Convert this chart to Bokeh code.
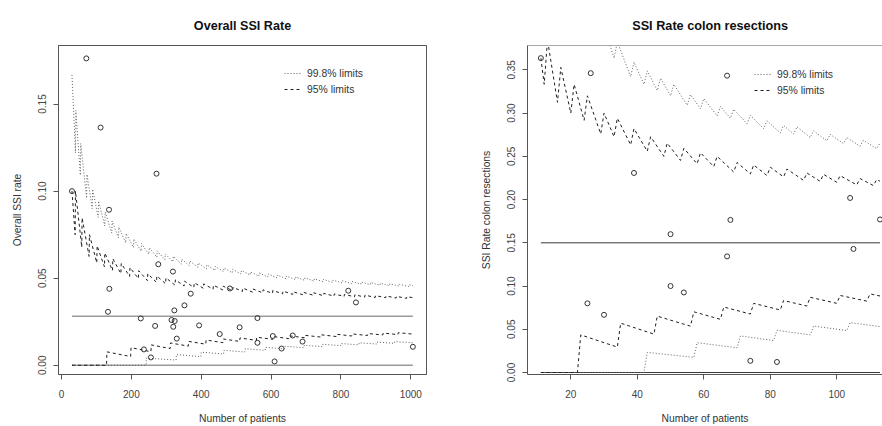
from bokeh.plotting import figure
from bokeh.models import Range1d, FixedTicker, NumeralTickFormatter, Legend, LegendItem, Span
from bokeh.layouts import row
from bokeh.embed import file_html
from bokeh.resources import INLINE

FONT = "Liberation Sans"

# ---------------- Left panel: Overall SSI Rate ----------------
L_TITLE = "Overall SSI Rate"
L_YLABEL = "Overall SSI rate"
XLABEL = "Number of patients"
L_N = [71, 112, 272, 30, 136, 277, 319, 137, 370, 482, 821, 843, 352, 133, 323, 227,
       561, 315, 324, 268, 320, 394, 510, 330, 453, 561, 605, 662, 690, 630, 1006,
       236, 256, 610]
L_RATE = [0.1762, 0.1365, 0.1100, 0.1000, 0.0893, 0.0580, 0.0538, 0.0439, 0.0411,
          0.0441, 0.0428, 0.0361, 0.0344, 0.0307, 0.0315, 0.0269, 0.0271, 0.0260,
          0.0254, 0.0226, 0.0221, 0.0229, 0.0218, 0.0153, 0.0179, 0.0129, 0.0168,
          0.0171, 0.0136, 0.0096, 0.0106, 0.0091, 0.0045, 0.0022]
L_P0 = 0.0281
L_X_TICKS = [0, 200, 400, 600, 800, 1000]
L_Y_TICKS = [0.0, 0.05, 0.10, 0.15]

# 99.8% upper limit (dotted): start, jump points, value before / after each jump, end
L_U998_START = [30, 0.1667]
L_U998_JUMP = [41, 55, 73, 89, 106, 125, 145, 164, 185, 207, 229, 251, 274, 297, 320,
               344, 367, 391, 416, 440, 465, 490, 515, 541, 566, 592, 618, 644, 671,
               697, 724, 750, 777, 804, 831, 858, 885, 913, 940, 968, 995]
L_U998_BEFORE = [0.1220, 0.1091, 0.0959, 0.0899, 0.0849, 0.0800, 0.0759, 0.0732, 0.0703,
                 0.0676, 0.0655, 0.0637, 0.0620, 0.0606, 0.0594, 0.0581, 0.0572, 0.0563,
                 0.0553, 0.0545, 0.0538, 0.0531, 0.0524, 0.0518, 0.0512, 0.0507, 0.0502,
                 0.0497, 0.0492, 0.0488, 0.0483, 0.0480, 0.0476, 0.0473, 0.0469, 0.0466,
                 0.0463, 0.0460, 0.0457, 0.0455, 0.0452]
L_U998_AFTER = [0.1463, 0.1273, 0.1096, 0.1011, 0.0943, 0.0880, 0.0828, 0.0793, 0.0757,
                0.0725, 0.0699, 0.0677, 0.0657, 0.0640, 0.0625, 0.0610, 0.0599, 0.0588,
                0.0577, 0.0568, 0.0559, 0.0551, 0.0544, 0.0536, 0.0530, 0.0524, 0.0518,
                0.0512, 0.0507, 0.0502, 0.0497, 0.0493, 0.0489, 0.0485, 0.0481, 0.0478,
                0.0475, 0.0471, 0.0468, 0.0465, 0.0462]
L_U998_END = [1006, 0.0457]

# 95% upper limit (dashed)
L_U95_START = [30, 0.1000]
L_U95_JUMP = [40, 59, 80, 102, 124, 147, 171, 196, 221, 247, 273, 299, 326, 352, 380,
              407, 435, 463, 491, 519, 548, 577, 605, 634, 663, 692, 722, 751, 781, 810,
              840, 869, 899, 929, 959, 989]
L_U95_BEFORE = [0.0750, 0.0678, 0.0625, 0.0588, 0.0565, 0.0544, 0.0526, 0.0510, 0.0498,
                0.0486, 0.0476, 0.0468, 0.0460, 0.0455, 0.0447, 0.0442, 0.0437, 0.0432,
                0.0428, 0.0424, 0.0420, 0.0416, 0.0413, 0.0410, 0.0407, 0.0405, 0.0402,
                0.0399, 0.0397, 0.0395, 0.0393, 0.0391, 0.0389, 0.0388, 0.0386, 0.0384]
L_U95_AFTER = [0.1000, 0.0847, 0.0750, 0.0686, 0.0645, 0.0612, 0.0585, 0.0561, 0.0543,
               0.0526, 0.0513, 0.0502, 0.0491, 0.0483, 0.0474, 0.0467, 0.0460, 0.0454,
               0.0448, 0.0443, 0.0438, 0.0433, 0.0430, 0.0426, 0.0422, 0.0419, 0.0416,
               0.0413, 0.0410, 0.0407, 0.0405, 0.0403, 0.0400, 0.0398, 0.0396, 0.0394]
L_U95_END = [1006, 0.0388]

# 95% lower limit (dashed)
L_L95_START = [30, 0.0]
L_L95_JUMP = [130, 199, 257, 312, 364, 414, 463, 511, 559, 606, 652, 697, 743, 788, 832,
              877, 921, 964]
L_L95_BEFORE = [0.0, 0.0050, 0.0078, 0.0096, 0.0110, 0.0121, 0.0130, 0.0137, 0.0143,
                0.0149, 0.0153, 0.0158, 0.0162, 0.0165, 0.0168, 0.0171, 0.0174, 0.0176]
L_L95_AFTER = [0.0077, 0.0101, 0.0117, 0.0128, 0.0137, 0.0145, 0.0151, 0.0157, 0.0161,
               0.0165, 0.0169, 0.0172, 0.0175, 0.0178, 0.0180, 0.0182, 0.0185, 0.0187]
L_L95_END = [1006, 0.0179]

# 99.8% lower limit (dotted)
L_L998_START = [30, 0.0]
L_L998_JUMP = [243, 329, 400, 465, 526, 584, 640, 695, 748, 800, 852, 903, 954]
L_L998_BEFORE = [0.0, 0.0030, 0.0050, 0.0065, 0.0076, 0.0086, 0.0094, 0.0101, 0.0107,
                 0.0113, 0.0117, 0.0122, 0.0126]
L_L998_AFTER = [0.0041, 0.0061, 0.0075, 0.0086, 0.0095, 0.0103, 0.0109, 0.0115, 0.0120,
                0.0125, 0.0129, 0.0133, 0.0136]
L_L998_END = [1006, 0.0129]

# ---------------- Right panel: SSI Rate colon resections ----------------
R_TITLE = "SSI Rate colon resections"
R_YLABEL = "SSI Rate colon resections"
R_N = [11, 26, 67, 39, 104, 68, 113, 50, 67, 105, 50, 54, 25, 30, 74, 82]
R_RATE = [0.3636, 0.3462, 0.3433, 0.2308, 0.2019, 0.1765, 0.1770, 0.1600, 0.1343,
          0.1429, 0.1000, 0.0926, 0.0800, 0.0667, 0.0135, 0.0122]
R_P0 = 0.15
R_X_TICKS = [20, 40, 60, 80, 100]
R_Y_TICKS = [0.0, 0.05, 0.10, 0.15, 0.20, 0.25, 0.30, 0.35]

R_U95_START = [11, 0.3636]
R_U95_JUMP = [13, 17, 21, 25, 30, 34, 39, 44, 49, 54, 59, 64, 70, 75, 80, 85, 91, 96,
              101, 107, 112]
R_U95_BEFORE = [0.3333, 0.3125, 0.3000, 0.2917, 0.2759, 0.2727, 0.2632, 0.2558, 0.2500,
                0.2453, 0.2414, 0.2381, 0.2319, 0.2297, 0.2278, 0.2262, 0.2222, 0.2211,
                0.2200, 0.2170, 0.2162]
R_U95_AFTER = [0.3846, 0.3529, 0.3333, 0.3200, 0.3000, 0.2941, 0.2821, 0.2727, 0.2653,
               0.2593, 0.2542, 0.2500, 0.2429, 0.2400, 0.2375, 0.2353, 0.2308, 0.2292,
               0.2277, 0.2243, 0.2232]
R_U95_END = [113, 0.2212]

R_U998_START = [21, 0.4286]
R_U998_JUMP = [22, 26, 30, 34, 39, 43, 47, 51, 56, 60, 65, 69, 74, 79, 84, 88, 93, 98,
               103, 108, 113]
R_U998_BEFORE = [0.4286, 0.4000, 0.3793, 0.3636, 0.3421, 0.3333, 0.3261, 0.3200, 0.3091,
                 0.3051, 0.2969, 0.2941, 0.2877, 0.2821, 0.2771, 0.2759, 0.2717, 0.2680,
                 0.2647, 0.2617, 0.2589]
R_U998_AFTER = [0.4545, 0.4231, 0.4000, 0.3824, 0.3590, 0.3488, 0.3404, 0.3333, 0.3214,
                0.3167, 0.3077, 0.3043, 0.2973, 0.2911, 0.2857, 0.2841, 0.2796, 0.2755,
                0.2718, 0.2685, 0.2655]
R_U998_END = [113, 0.2655]

R_L95_START = [11, 0.0]
R_L95_JUMP = [23, 35, 46, 57, 66, 75, 84, 92, 101, 110]
R_L95_BEFORE = [0.0, 0.0294, 0.0444, 0.0536, 0.0615, 0.0676, 0.0723, 0.0769, 0.0800,
                0.0826]
R_L95_AFTER = [0.0435, 0.0571, 0.0652, 0.0702, 0.0758, 0.0800, 0.0833, 0.0870, 0.0891,
               0.0909]
R_L95_END = [113, 0.0885]

R_L998_START = [11, 0.0]
R_L998_JUMP = [43, 58, 71, 82, 93, 104]
R_L998_BEFORE = [0.0, 0.0175, 0.0286, 0.0370, 0.0435, 0.0485]
R_L998_AFTER = [0.0233, 0.0345, 0.0423, 0.0488, 0.0538, 0.0577]
R_L998_END = [113, 0.0531]

LEGEND_LABELS = ["99.8% limits", "95% limits"]

# ---------------- helpers ----------------
DASH_COLOR = "#1e1e1e"
DOT_COLOR = "#606060"
AXIS_COLOR = "#555555"


def steps(start, jumps, before, after, end):
    xs, ys = [start[0]], [start[1]]
    for n, b, a in zip(jumps, before, after):
        xs += [n - 1, n]
        ys += [b, a]
    xs.append(end[0])
    ys.append(end[1])
    return xs, ys


def make_fig(width, left_border, right_border, xr, yr, xticks, yticks, ylabel):
    p = figure(width=width, height=426, x_range=Range1d(*xr), y_range=Range1d(*yr),
               output_backend="svg", toolbar_location=None,
               min_border_left=left_border, min_border_right=right_border,
               min_border_top=45, min_border_bottom=51,
               background_fill_color="white", border_fill_color="white")
    p.xgrid.visible = False
    p.ygrid.visible = False
    p.xaxis.ticker = FixedTicker(ticks=xticks)
    p.yaxis.ticker = FixedTicker(ticks=yticks)
    p.yaxis.formatter = NumeralTickFormatter(format="0.00")
    p.yaxis.major_label_orientation = "vertical"
    for ax in p.axis:
        ax.major_tick_in = 0
        ax.major_tick_out = 5
        ax.minor_tick_line_color = None
        ax.axis_line_color = AXIS_COLOR
        ax.major_tick_line_color = AXIS_COLOR
        ax.major_label_text_font = FONT
        ax.major_label_text_font_size = "10px"
        ax.major_label_text_color = "#444444"
        ax.axis_label_text_font = FONT
        ax.axis_label_text_font_size = "10.3px"
        ax.axis_label_text_font_style = "normal"
        ax.axis_label_text_color = "#333333"
    p.xaxis.major_label_standoff = 10
    p.yaxis.major_label_standoff = 7
    p.xaxis.axis_label_standoff = 12
    p.yaxis.axis_label_standoff = 13
    p.xaxis.axis_label = XLABEL
    p.yaxis.axis_label = ylabel
    return p


def add_panel(p, n, rate, p0, u998, u95, l95, l998, hline_color, hline_width, legend_loc):
    x0, x1 = min(n), max(n)
    p.line([x0, x1], [p0, p0], line_color=hline_color, line_width=hline_width)
    p.line([x0, x1], [0, 0], line_color=hline_color, line_width=hline_width)
    xs, ys = steps(*u998)
    r_dot = p.line(xs, ys, line_color=DOT_COLOR, line_width=1, line_dash="1 2")
    xs, ys = steps(*l998)
    p.line(xs, ys, line_color=DOT_COLOR, line_width=1, line_dash="1 2")
    xs, ys = steps(*u95)
    r_dash = p.line(xs, ys, line_color=DASH_COLOR, line_width=1, line_dash="3 3")
    xs, ys = steps(*l95)
    p.line(xs, ys, line_color=DASH_COLOR, line_width=1, line_dash="3 3")
    p.scatter(n, rate, marker="circle", size=5, fill_color=None,
              line_color="#333333", line_width=1)
    leg = Legend(items=[LegendItem(label=LEGEND_LABELS[0], renderers=[r_dot]),
                        LegendItem(label=LEGEND_LABELS[1], renderers=[r_dash])],
                 location=legend_loc, border_line_color=None, background_fill_alpha=0,
                 padding=0, margin=0, spacing=0, glyph_width=18, glyph_height=16,
                 label_height=16, label_standoff=5, label_text_font=FONT,
                 label_text_font_size="10.4px", label_text_color="#333333")
    p.add_layout(leg)


# ---------------- left figure ----------------
L_XR = (-8.6, 1045)
L_YR = (-0.0053, 0.1836)
p1 = make_fig(441, 58, 15, L_XR, L_YR, L_X_TICKS, L_Y_TICKS, L_YLABEL)
p1.outline_line_color = AXIS_COLOR
p1.outline_line_width = 1
add_panel(p1, L_N, L_RATE, L_P0,
          (L_U998_START, L_U998_JUMP, L_U998_BEFORE, L_U998_AFTER, L_U998_END),
          (L_U95_START, L_U95_JUMP, L_U95_BEFORE, L_U95_AFTER, L_U95_END),
          (L_L95_START, L_L95_JUMP, L_L95_BEFORE, L_L95_AFTER, L_L95_END),
          (L_L998_START, L_L998_JUMP, L_L998_BEFORE, L_L998_AFTER, L_L998_END),
          "#9a9a9a", 1.5, (226, 277))
p1.title.text = L_TITLE
p1.title.text_font = FONT
p1.title.text_font_style = "bold"
p1.title.text_font_size = "12.6px"
p1.title.text_color = "#111111"
p1.title.align = "center"
p1.title.standoff = 26

# ---------------- right figure ----------------
R_XR = (6.98, 113.74)
R_YR = (-0.0023, 0.3782)
p2 = make_fig(441, 86, 0, R_XR, R_YR, R_X_TICKS, R_Y_TICKS, R_YLABEL)
p2.outline_line_color = None
p2.add_layout(Span(location=R_YR[1], dimension="width", line_color=AXIS_COLOR, line_width=1))
add_panel(p2, R_N, R_RATE, R_P0,
          (R_U998_START, R_U998_JUMP, R_U998_BEFORE, R_U998_AFTER, R_U998_END),
          (R_U95_START, R_U95_JUMP, R_U95_BEFORE, R_U95_AFTER, R_U95_END),
          (R_L95_START, R_L95_JUMP, R_L95_BEFORE, R_L95_AFTER, R_L95_END),
          (R_L998_START, R_L998_JUMP, R_L998_BEFORE, R_L998_AFTER, R_L998_END),
          "#3a3a3a", 1, (227, 276))
p2.title.text = R_TITLE
p2.title.text_font = FONT
p2.title.text_font_style = "bold"
p2.title.text_font_size = "12.7px"
p2.title.text_color = "#111111"
p2.title.align = "left"
p2.title.offset = 104.7
p2.title.standoff = 26

layout = row(p1, p2)
open("out.html", "w").write(file_html(layout, INLINE))
